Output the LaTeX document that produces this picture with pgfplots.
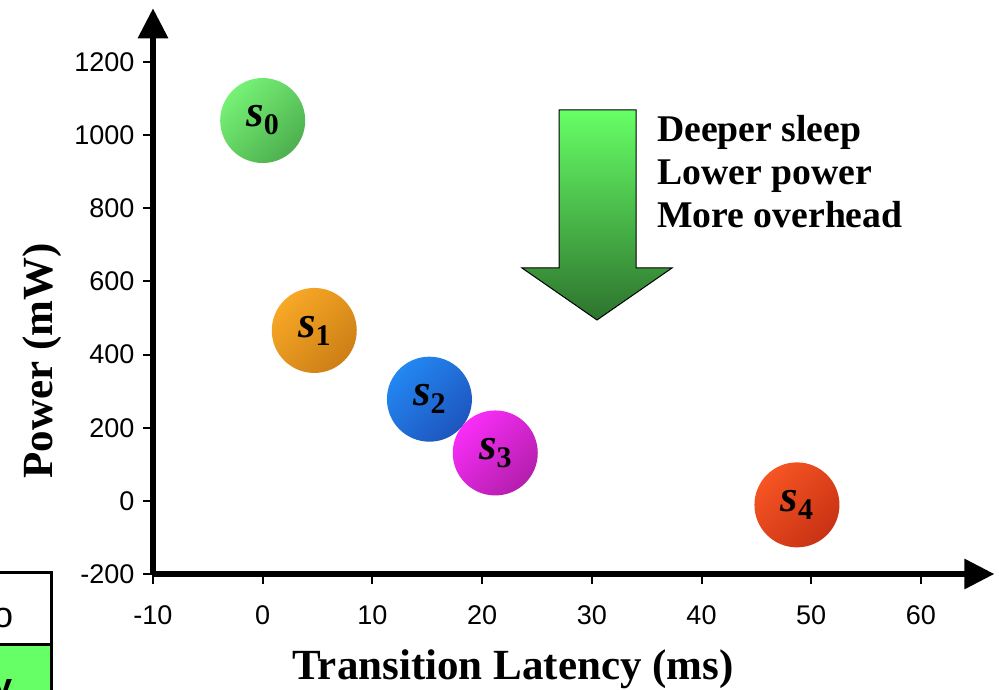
\documentclass[border=0pt]{standalone}
\usepackage{fontspec}
\setmainfont{Liberation Serif}
\setsansfont{Liberation Sans}
\usepackage{pgfplots}
\pgfplotsset{compat=1.18}
\usetikzlibrary{arrows.meta}
\definecolor{b0a}{RGB}{118,242,118}\definecolor{b0b}{RGB}{78,175,78}
\definecolor{b1a}{RGB}{247,168,38}\definecolor{b1b}{RGB}{205,127,22}
\definecolor{b2a}{RGB}{35,135,242}\definecolor{b2b}{RGB}{30,85,190}
\definecolor{b3a}{RGB}{248,45,248}\definecolor{b3b}{RGB}{180,30,172}
\definecolor{b4a}{RGB}{246,85,35}\definecolor{b4b}{RGB}{200,50,20}
\definecolor{arA}{RGB}{102,255,102}\definecolor{arB}{RGB}{45,115,45}
\definecolor{tabgreen}{RGB}{102,255,102}
\newcommand{\slab}[1]{{\fontsize{45}{45}\selectfont\bfseries\itshape s}{\fontsize{30}{30}\selectfont\bfseries\raisebox{-8pt}{#1}}}
\pgfplotsset{bub/.style n args={3}{only marks, mark=*, mark size=1pt, black,
  nodes near coords={\slab{#1}},
  every node near coord/.style={circle, inner sep=0pt, minimum size=85pt, anchor=center,
     top color=#2, bottom color=#3, shading angle=45, text=black}}}
\begin{document}
\begin{tikzpicture}
\path[use as bounding box] (0,0) rectangle (999pt,690pt);
% table fragment at bottom left
\fill[tabgreen] (-10pt,-10pt) rectangle (51pt,45pt);
\draw[line width=3pt] (-10pt,117pt) -- (51pt,117pt) -- (51pt,-10pt);
\draw[line width=3pt] (-10pt,45pt) -- (51pt,45pt);
\node[anchor=base west, inner sep=0pt, font=\sffamily\fontsize{36}{36}\selectfont] at (-7pt,62pt) {o};
\node[anchor=base west, inner sep=0pt, font=\sffamily\bfseries\fontsize{36}{36}\selectfont] at (-8pt,-9pt) {y};
\begin{axis}[
  at={(153pt,116pt)}, anchor=south west,
  x=10.97pt, y=0.3657pt,
  xmin=-10, xmax=66.7, ymin=-200, ymax=1347,
  enlargelimits=false, clip=false,
  axis lines=left,
  axis line style={line width=6pt, -{Triangle[length=30pt,width=29pt]}},
  xtick={-10,0,10,20,30,40,50,60},
  ytick={-200,0,200,400,600,800,1000,1200},
  tick align=outside, major tick length=10pt,
  tick style={black, line width=2pt},
  ticklabel style={font=\sffamily\fontsize{27}{30}\selectfont},
  xticklabel style={yshift=-18pt},
  yticklabel style={xshift=-5pt},
  /pgf/number format/assume math mode=true,
  /pgf/number format/1000 sep={},
]
\addplot[bub={0}{b0a}{b0b}] coordinates {(0,1040)};
\addplot[bub={1}{b1a}{b1b}] coordinates {(4.7,466)};
\addplot[bub={2}{b2a}{b2b}] coordinates {(15.2,278)};
\addplot[bub={3}{b3a}{b3b}] coordinates {(21.2,131)};
\addplot[bub={4}{b4a}{b4b}] coordinates {(48.7,-11)};
\end{axis}
% big arrow
\path[draw=black, line width=1pt, top color=arA, bottom color=arB]
  (559pt,580pt) -- (636pt,580pt) -- (636pt,422pt) -- (672pt,422pt) -- (597pt,370pt)
  -- (522pt,422pt) -- (559pt,422pt) -- cycle;
\node[anchor=base west, inner sep=0pt, font=\bfseries\fontsize{37.7}{40}\selectfont] at (657pt,548pt) {Deeper sleep};
\node[anchor=base west, inner sep=0pt, font=\bfseries\fontsize{37.7}{40}\selectfont] at (657pt,505pt) {Lower power};
\node[anchor=base west, inner sep=0pt, font=\bfseries\fontsize{37.7}{40}\selectfont] at (657pt,462pt) {More overhead};
% axis titles
\node[anchor=base, inner sep=0pt, font=\bfseries\fontsize{43}{43}\selectfont] at (513pt,10pt) {Transition Latency (ms)};
\node[anchor=base, rotate=90, inner sep=0pt, font=\bfseries\fontsize{43}{43}\selectfont] at (52pt,329pt) {Power (mW)};
\end{tikzpicture}
\end{document}
